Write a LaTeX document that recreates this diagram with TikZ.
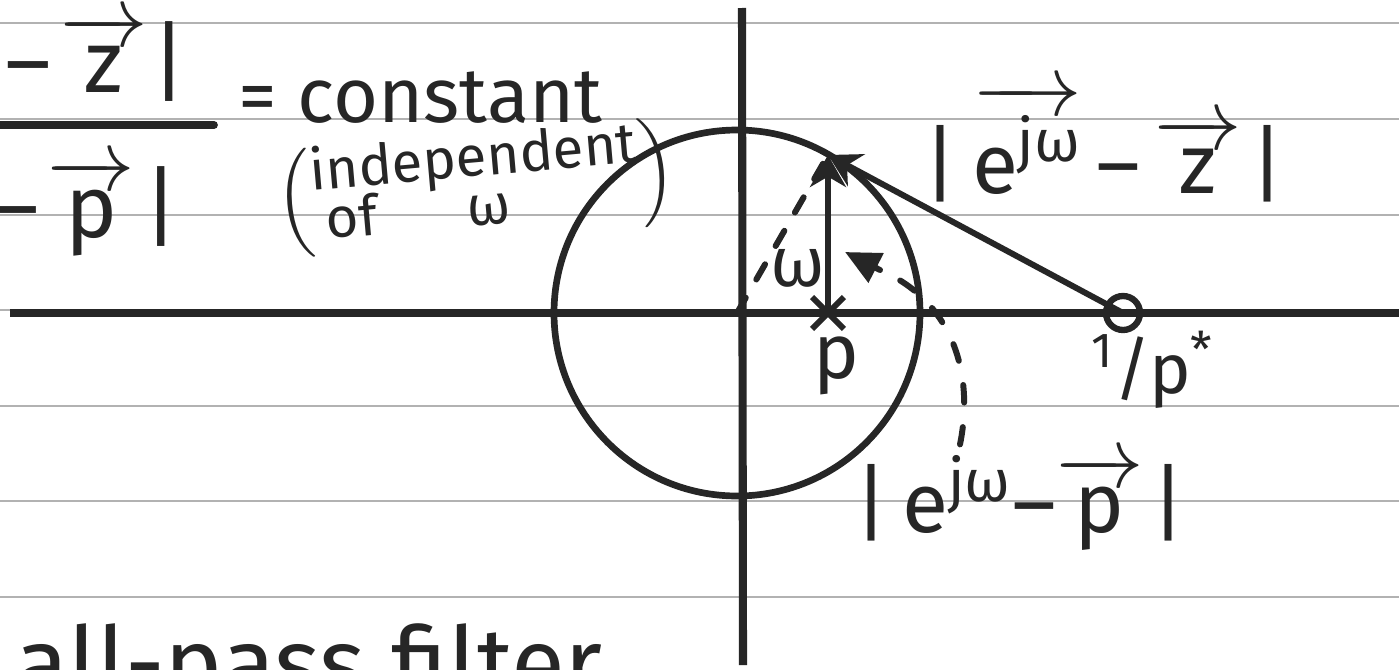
\documentclass[tikz,border=0pt]{standalone}
\usepackage{amsmath}
\usepackage{fontspec}
\setmainfont{Fira Sans}
\usepackage{tikz}
\usetikzlibrary{arrows.meta,shapes.misc,calc}
\definecolor{ink}{HTML}{262626}

\newcommand{\vecarr}[1]{$\overrightarrow{\text{#1}}$}

\begin{document}
\begin{tikzpicture}[
    x=0.1mm, y=-0.1mm,
    pen/.style={draw=ink, line width=1.7pt, line cap=round},
    axis/.style={draw=ink, line width=2.3pt},
    ruling/.style={draw=black!30, line width=0.6pt},
    hand/.style={text=ink, inner sep=0pt, font=\fontsize{22}{24}\selectfont},
    big/.style={hand, font=\fontsize{24}{26}\selectfont},
    note/.style={hand, font=\fontsize{16}{17}\selectfont},
    vect/.style={pen, -{Stealth[length=3.2mm, width=3.6mm]}},
    leader/.style={pen, dash pattern=on 5pt off 7pt}
]

% Paper
\fill[white] (0,0) rectangle (1399,669);
\useasboundingbox (0,0) rectangle (1399,669);
\foreach \y in {23,119,215,310,406,501,597}
    \draw[ruling] (0,\y) -- (1399,\y);

% Axes
\draw[axis] (10,313) -- (1399,313);
\draw[axis] (742,8) -- (743,665);

% Unit circle
\coordinate (O) at (737,313);
\draw[pen, line width=1.9pt] (O) circle[radius=18.3mm];

% Pole, zero and the point on the circle
\coordinate (ejw) at (828,155);
\node[draw=ink, cross out, line width=1.7pt, minimum size=2.6mm, inner sep=0pt] (pole) at (828,313) {};
\node[draw=ink, circle, line width=1.8pt, minimum size=3.4mm, inner sep=0pt] (zero) at (1123,313) {};

% Vectors
\draw[vect] (pole.center) -- (ejw);
\draw[vect] (zero.center) -- (ejw);
\draw[pen, dash pattern=on 5pt off 6pt] (O) -- (ejw);

% Labels on the plane
\node[hand, font=\fontsize{20}{20}\selectfont] (omega) at (798,268) {ω};
\node[hand] (plab) at (836,366) {p};
\node[hand, font=\fontsize{20}{22}\selectfont] (zlab) at (1153,370) {\textsuperscript{1}/p\textsuperscript{*}};
\node[big] (zmag) at (1104,143) {|\,\vecarr{e\textsuperscript{jω}}\,–\,\vecarr{z}\hspace{0.1em}|};
\node[big] (pmag) at (1020,503) {|\,e\textsuperscript{jω}–\vecarr{p}\hspace{0.1em}|};

% Leader
\coordinate (tail) at (880,270);
\coordinate (tip) at (845,252);
\draw[leader] ([xshift=-6mm,yshift=1mm]pmag.north) .. controls (975,370) and (950,300) .. (tail);
\draw[pen, -{Triangle[length=3.5mm, width=3.2mm]}] (tail) -- (tip);

% Ratio at left
\node[big, anchor=east, font=\fontsize{25}{27}\selectfont] (num) at (188,58) {–\hspace{0.1em}\vecarr{z}\hspace{0.05em}|};
\draw[pen, line width=2.2pt] (0,125) -- (214,125);
\node[big, anchor=east, font=\fontsize{25}{27}\selectfont] (den) at (180,207) {–\hspace{0.1em}\vecarr{p}\hspace{0.1em}|};
\node[hand, anchor=west] (const) at (238,98) {= constant};
\node[note, rotate=5] (indep) at (476,188) {$\left(\text{\begin{tabular}{@{}l@{}}independent\\[-3pt]\hspace{0.2em}of\hspace{1.6em}ω\end{tabular}}\right)$};

% Title
\node[hand, anchor=base west, font=\fontsize{28}{30}\selectfont] (title) at (15,697) {all-pass filter};

\end{tikzpicture}
\end{document}
